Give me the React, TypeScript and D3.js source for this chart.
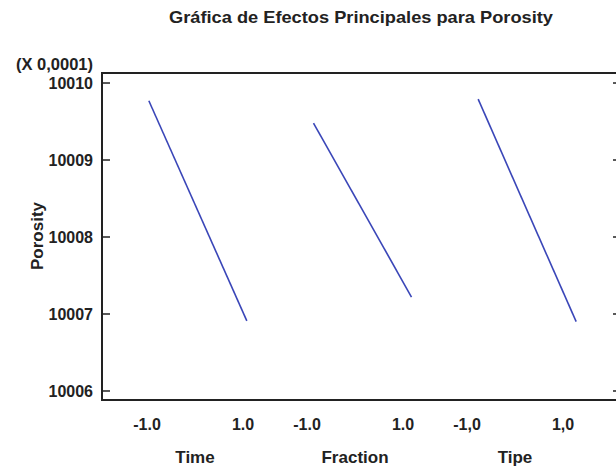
import React from "react";
import * as d3 from "d3";

const factors = ["Time", "Fraction", "Tipe"];
const lowLabels = ["-1.0", "-1.0", "-1,0"];
const highLabels = ["1.0", "1.0", "1,0"];
const lowValues = [10009.77, 10009.48, 10009.79];
const highValues = [10006.91, 10007.22, 10006.9];
const yTicks = [10006, 10007, 10008, 10009, 10010];
const yDomain = [10005.883, 10010.13];
const title = "Gráfica de Efectos Principales para Porosity";
const yLabel = "Porosity";
const multiplier = "(X 0,0001)";

const W = 616;
const H = 468;
const left = 102;
const right = 621;
const top = 73;
const bottom = 400;
const FONT = "'Liberation Sans', Arial, Helvetica, sans-serif";

export default function App() {
  const y = d3.scaleLinear().domain(yDomain).range([bottom, top]);
  const band = d3
    .scaleBand<string>()
    .domain(factors)
    .range([left, 623])
    .paddingInner(0)
    .paddingOuter(0.082);
  const labelBand = d3
    .scaleBand<string>()
    .domain(factors)
    .range([115, 595])
    .paddingInner(0)
    .paddingOuter(0);
  const lineGen = d3
    .line<[number, number]>()
    .x((d) => d[0])
    .y((d) => d[1]);

  return (
    <div style={{ position: "absolute", left: 0, top: 0 }}>
      <svg width={W} height={H} style={{ display: "block", background: "#fff" }}>
        <text
          x={361}
          y={23}
          textAnchor="middle"
          fontFamily={FONT}
          fontWeight="bold"
          fontSize={16.5}
          fill="#222"
          textLength={384}
          lengthAdjust="spacingAndGlyphs"
        >
          {title}
        </text>
        {/* frame */}
        <rect
          x={left}
          y={top}
          width={right - left}
          height={bottom - top}
          fill="none"
          stroke="#222"
          strokeWidth={2}
        />
        {/* y ticks */}
        {yTicks.map((t) => (
          <g key={t}>
            <line x1={left} x2={left + 8} y1={y(t)} y2={y(t)} stroke="#222" strokeWidth={1.5} />
            <line x1={right - 8} x2={right} y1={y(t)} y2={y(t)} stroke="#222" strokeWidth={1.5} />
            <text
              x={93}
              y={y(t)}
              dy="0.38em"
              textAnchor="end"
              fontFamily={FONT}
              fontWeight="bold"
              fontSize={16}
              fill="#222"
            >
              {t}
            </text>
          </g>
        ))}
        <text
          x={93}
          y={70}
          textAnchor="end"
          fontFamily={FONT}
          fontWeight="bold"
          fontSize={16.5}
          fill="#222"
        >
          {multiplier}
        </text>
        <text
          transform={`translate(${43},${236}) rotate(-90)`}
          textAnchor="middle"
          fontFamily={FONT}
          fontWeight="bold"
          fontSize={17}
          fill="#222"
        >
          {yLabel}
        </text>
        {/* effect lines */}
        {factors.map((f, i) => {
          const c = (band(f) as number) + band.bandwidth() / 2;
          const xi = d3.scaleLinear().domain([-1, 1]).range([c - 49, c + 49]);
          const pts: [number, number][] = [
            [xi(-1), y(lowValues[i])],
            [xi(1), y(highValues[i])],
          ];
          return (
            <path
              key={f}
              d={lineGen(pts) || ""}
              fill="none"
              stroke="#3a46b8"
              strokeWidth={1.6}
            />
          );
        })}
        {/* x labels */}
        {factors.map((f, i) => {
          const c = (labelBand(f) as number) + labelBand.bandwidth() / 2;
          const xl = d3.scaleLinear().domain([-1, 1]).range([c - 48, c + 48]);
          return (
            <g key={f}>
              <text
                x={xl(-1)}
                y={430}
                textAnchor="middle"
                fontFamily={FONT}
                fontWeight="bold"
                fontSize={16}
                fill="#222"
              >
                {lowLabels[i]}
              </text>
              <text
                x={xl(1)}
                y={430}
                textAnchor="middle"
                fontFamily={FONT}
                fontWeight="bold"
                fontSize={16}
                fill="#222"
              >
                {highLabels[i]}
              </text>
              <text
                x={c}
                y={463}
                textAnchor="middle"
                fontFamily={FONT}
                fontWeight="bold"
                fontSize={17}
                fill="#222"
              >
                {f}
              </text>
            </g>
          );
        })}
      </svg>
    </div>
  );
}
